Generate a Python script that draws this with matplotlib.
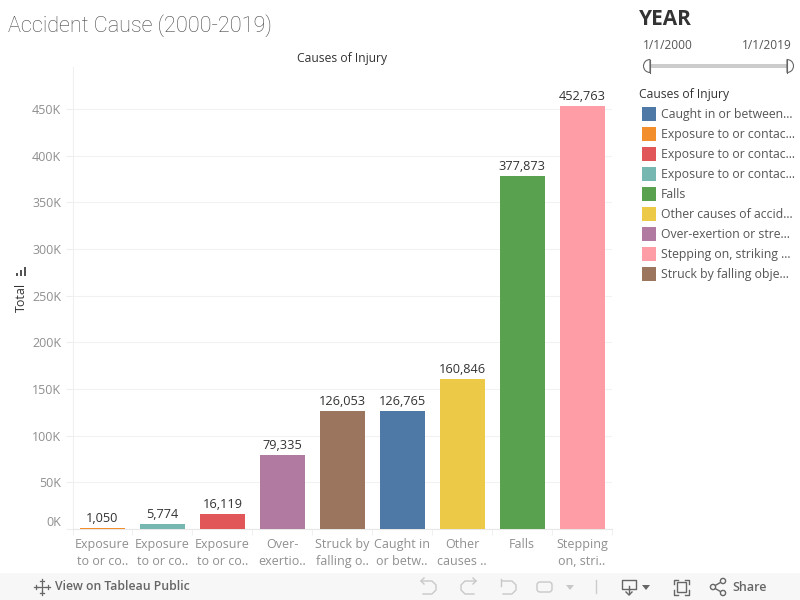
import matplotlib
matplotlib.use("Agg")
import matplotlib.pyplot as plt
from matplotlib.patches import Rectangle, Circle, Wedge, FancyBboxPatch

plt.rcParams['font.family'] = ['Open Sans', 'DejaVu Sans']

# Data, sorted as in the chart
tick_labels = ["Exposure\nto or co..", "Exposure\nto or co..", "Exposure\nto or co..",
               "Over-\nexertio..", "Struck by\nfalling o..", "Caught in\nor betw..",
               "Other\ncauses ..", "Falls", "Stepping\non, stri.."]
totals = [1050, 5774, 16119, 79335, 126053, 126765, 160846, 377873, 452763]
bar_colors = ["#f28e2b", "#76b7b2", "#e15759", "#b07aa1", "#9c755f",
              "#4e79a7", "#edc948", "#59a14f", "#ff9da7"]

legend_labels = ["Caught in or between...", "Exposure to or contac...", "Exposure to or contac...",
                 "Exposure to or contac...", "Falls", "Other causes of accid...",
                 "Over-exertion or stre...", "Stepping on, striking ...", "Struck by falling obje..."]
legend_colors = ["#4e79a7", "#f28e2b", "#e15759", "#76b7b2", "#59a14f",
                 "#edc948", "#b07aa1", "#ff9da7", "#9c755f"]
y_ticks = [0, 50000, 100000, 150000, 200000, 250000, 300000, 350000, 400000, 450000]
y_tick_labels = ["0K", "50K", "100K", "150K", "200K", "250K", "300K", "350K", "400K", "450K"]

fig = plt.figure(figsize=(8, 6), dpi=100, facecolor="white")

# Main chart
ax = fig.add_axes([72.5 / 800, (600 - 529) / 600, 539.5 / 800, 462 / 600])
x = range(len(totals))
ax.bar(x, totals, width=0.75, color=bar_colors, zorder=3)
ax.set_xlim(-0.5, 8.5)
ax.set_ylim(0, 495000)

for i, v in zip(x, totals):
    ax.annotate(f"{v:,}", (i, v), xytext=(0, 2.2), textcoords="offset points",
                ha="center", va="bottom", fontsize=9.2, color="#333333")

for s in ["top", "right"]:
    ax.spines[s].set_visible(False)
ax.spines["left"].set_color("#f0f0f0")
ax.spines["bottom"].set_color("#e8e8e8")

ax.set_yticks(y_ticks)
ax.set_yticklabels(y_tick_labels, fontsize=9, color="#8f8f8f")
ax.tick_params(axis="y", length=5, color="#eeeeee", pad=3)
ax.get_yticklabels()[0].set_verticalalignment("bottom")
ax.grid(axis="y", color="#f2f2f2", linewidth=0.8, zorder=0)

ax.set_xticks(list(x))
ax.set_xticklabels(tick_labels, fontsize=9, color="#8f8f8f", linespacing=1.45)
ax.tick_params(axis="x", which="major", length=0, pad=6.2)
ax.set_xticks([i - 0.5 for i in range(10)], minor=True)
ax.tick_params(axis="x", which="minor", length=4, color="#eeeeee")

# Everything around the chart, in pixel coordinates
ov = fig.add_axes([0, 0, 1, 1], facecolor="none")
ov.set_xlim(0, 800)
ov.set_ylim(600, 0)
ov.axis("off")

ov.text(7.5, 26, "Accident Cause (2000-2019)", fontsize=15.6, color="#484848", va="center",
        family=["Roboto", "DejaVu Sans"], fontweight="light")
ov.text(342, 58.5, "Causes of Injury", fontsize=8.7, color="#333333", ha="center", va="center")
ov.text(21, 297, "Total", fontsize=9, color="#333333", rotation=90, ha="center", va="center")
for bx, bh in [(15.5, 3), (19.5, 6), (23.5, 9)]:
    ov.add_patch(Rectangle((bx, 276 - bh), 2, bh, color="#555555", lw=0))

# Year filter
ov.text(639, 19.5, "YEAR", fontsize=15, fontweight="bold", color="#333333", va="center")
ov.text(643, 45.5, "1/1/2000", fontsize=8.6, color="#555555", va="center")
ov.text(792, 45.5, "1/1/2019", fontsize=8.6, color="#555555", va="center", ha="right")
ov.add_patch(Rectangle((650, 64), 137, 4, color="#cccccc", lw=0))
ov.add_patch(Wedge((650, 66), 6.5, 90, 270, facecolor="white", edgecolor="#666666", lw=0.8))
ov.plot([650, 650], [59.5, 72.5], color="#666666", lw=0.8)
ov.add_patch(Wedge((787, 66), 6.5, 270, 90, facecolor="white", edgecolor="#666666", lw=0.8))
ov.plot([787, 787], [59.5, 72.5], color="#666666", lw=0.8)

# Colour legend
ov.text(639, 94.5, "Causes of Injury", fontsize=8.7, color="#333333", va="center")
for i, (lab, col) in enumerate(zip(legend_labels, legend_colors)):
    yc = 113.5 + i * 20
    ov.add_patch(Rectangle((642, yc - 7), 14, 14, color=col, lw=0))
    ov.text(661, yc + 1, lab, fontsize=8.8, color="#555555", va="center")

# Footer bar
ov.add_patch(Rectangle((0, 573), 800, 27, color="#f7f7f7", lw=0))
ov.text(55, 587, "View on Tableau Public", fontsize=8.8, color="#666666", va="center", fontweight="semibold")
ov.text(750, 587.5, "Share", fontsize=9, color="#666666", va="center", fontweight="semibold",
        ha="center")
# tableau mark
for cx, cy, r in [(41.5, 587, 4.5), (41.5, 581, 2), (41.5, 593, 2), (35.5, 587, 2), (47.5, 587, 2)]:
    ov.plot([cx - r, cx + r], [cy, cy], color="#666666", lw=0.9)
    ov.plot([cx, cx], [cy - r, cy + r], color="#666666", lw=0.9)

# undo / redo / reset / pause icons
grey = "#c8c8c8"
ov.plot([421, 432, 436, 436, 432, 423], [581, 581, 585, 590, 594, 594], color=grey, lw=1)
ov.plot([424, 421, 424], [578, 581, 584], color=grey, lw=1)
ov.plot([476, 465, 461, 461, 465, 474], [581, 581, 585, 590, 594, 594], color=grey, lw=1)
ov.plot([473, 476, 473], [578, 581, 584], color=grey, lw=1)
ov.plot([502, 512, 516, 516, 512, 503], [581, 581, 585, 590, 594, 594], color=grey, lw=1)
ov.plot([501, 501], [579, 586], color=grey, lw=1)
ov.add_patch(FancyBboxPatch((539, 584), 11, 6, boxstyle="round,pad=2,rounding_size=3",
                            fill=False, edgecolor=grey, lw=1))
ov.fill([566, 574, 570], [585, 585, 590], color=grey, lw=0)
ov.plot([595.5, 595.5], [580, 593], color="#cccccc", lw=1)

# download / fullscreen / share icons
dark = "#666666"
ov.plot([629, 622, 622, 636, 636, 630], [589, 589, 580, 580, 589, 589], color=dark, lw=1)
ov.plot([629, 629], [586, 594], color=dark, lw=1)
ov.plot([626, 629, 632], [592, 595, 592], color=dark, lw=1)
ov.fill([642, 650, 646], [585, 585, 590], color=dark, lw=0)
ov.add_patch(Rectangle((677, 582), 9, 10, fill=False, edgecolor=dark, lw=1))
for cx, sx in [(673.5, 1), (689, -1)]:
    ov.plot([cx + sx * 4, cx, cx], [579.5, 579.5, 584], color=dark, lw=1)
    ov.plot([cx + sx * 4, cx, cx], [594.5, 594.5, 590], color=dark, lw=1)
ov.plot([712.5, 723], [587, 581], color=dark, lw=1)
ov.plot([712.5, 723], [587, 593], color=dark, lw=1)
for cx, cy in [(713, 587), (723, 581), (723, 593)]:
    ov.add_patch(Circle((cx, cy), 2.6, facecolor="#f7f7f7", edgecolor=dark, lw=1, zorder=3))

fig.savefig("out.png", dpi=100)
